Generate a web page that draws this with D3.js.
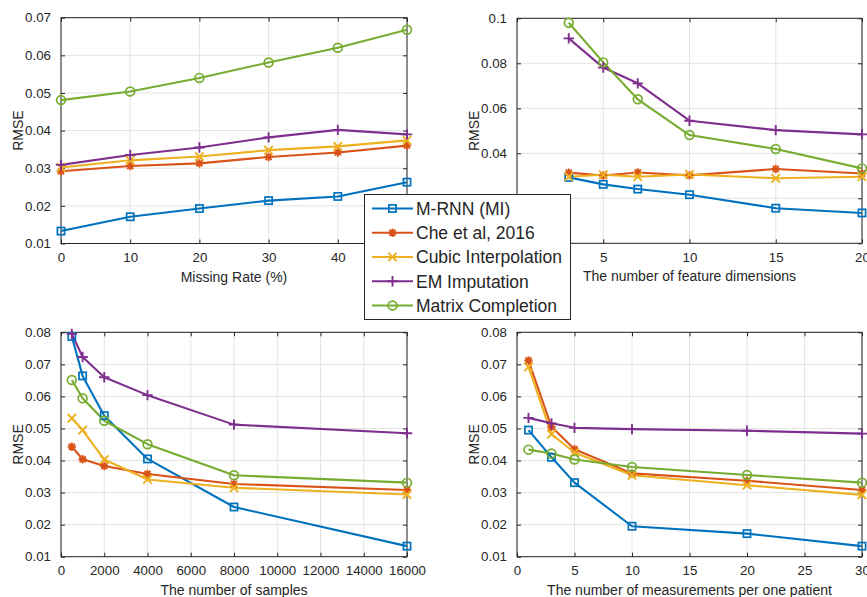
<!DOCTYPE html>
<html><head><meta charset="utf-8">
<script src="https://cdn.jsdelivr.net/npm/d3@7"></script>
<style>body{margin:0;background:#fff}svg{display:block}text{font-family:"Liberation Sans",Arial,sans-serif;fill:#262626}</style>
</head><body><svg id="c" width="867" height="597"></svg>
<script>
// ---------- data ----------
const seriesNames = ["M-RNN (MI)", "Che et al, 2016", "Cubic Interpolation", "EM Imputation", "Matrix Completion"];

// Panel 1: missing rate
const rateX = [0, 10, 20, 30, 40, 50];
const rateMRNN   = [0.0133, 0.0171, 0.0193, 0.0214, 0.0225, 0.0263];
const rateChe    = [0.0292, 0.0306, 0.0313, 0.0330, 0.0342, 0.0360];
const rateCubic  = [0.0302, 0.0321, 0.0331, 0.0348, 0.0358, 0.0374];
const rateEM     = [0.0309, 0.0335, 0.0355, 0.0382, 0.0402, 0.0390];
const rateMatrix = [0.0481, 0.0504, 0.0540, 0.0581, 0.0620, 0.0668];
const rateXTicks = [0, 10, 20, 30, 40, 50];
const rateYTicks = [0.01, 0.02, 0.03, 0.04, 0.05, 0.06, 0.07];

// Panel 2: feature dimensions
const dimX = [3, 5, 7, 10, 15, 20];
const dimMRNN   = [0.0293, 0.0262, 0.0241, 0.0216, 0.0156, 0.0135];
const dimChe    = [0.0314, 0.0301, 0.0315, 0.0302, 0.0330, 0.0310];
const dimCubic  = [0.0296, 0.0305, 0.0296, 0.0306, 0.0289, 0.0296];
const dimEM     = [0.0911, 0.0781, 0.0711, 0.0545, 0.0503, 0.0484];
const dimMatrix = [0.0980, 0.0804, 0.0640, 0.0481, 0.0419, 0.0333];
const dimXTicks = [0, 5, 10, 15, 20];
const dimYTicks = [0, 0.02, 0.04, 0.06, 0.08, 0.1];

// Panel 3: number of samples
const sampleX = [500, 1000, 2000, 4000, 8000, 16000];
const sampleMRNN   = [0.0787, 0.0664, 0.0540, 0.0405, 0.0255, 0.0133];
const sampleChe    = [0.0443, 0.0404, 0.0383, 0.0358, 0.0327, 0.0308];
const sampleCubic  = [0.0532, 0.0495, 0.0403, 0.0341, 0.0315, 0.0294];
const sampleEM     = [0.0795, 0.0723, 0.0660, 0.0604, 0.0512, 0.0485];
const sampleMatrix = [0.0651, 0.0594, 0.0524, 0.0451, 0.0354, 0.0331];
const sampleXTicks = [0, 2000, 4000, 6000, 8000, 10000, 12000, 14000, 16000];
const sampleYTicks = [0.01, 0.02, 0.03, 0.04, 0.05, 0.06, 0.07, 0.08];

// Panel 4: measurements per patient
const measX = [1, 3, 5, 10, 20, 30];
const measMRNN   = [0.0495, 0.0410, 0.0331, 0.0195, 0.0172, 0.0133];
const measChe    = [0.0712, 0.0505, 0.0435, 0.0360, 0.0337, 0.0308];
const measCubic  = [0.0692, 0.0482, 0.0425, 0.0354, 0.0323, 0.0293];
const measEM     = [0.0533, 0.0516, 0.0502, 0.0498, 0.0493, 0.0484];
const measMatrix = [0.0434, 0.0422, 0.0403, 0.0380, 0.0355, 0.0331];
const measXTicks = [0, 5, 10, 15, 20, 25, 30];
const measYTicks = [0.01, 0.02, 0.03, 0.04, 0.05, 0.06, 0.07, 0.08];

// ---------- style ----------
const colors = ["#0072BD", "#D95319", "#EDB120", "#7E2F8E", "#77AC30"];
const markers = ["square", "asterisk", "cross", "plus", "circle"];
const axisColor = "#262626";
const gridColor = "#e4e4e4";

const panels = [
  {x: rateX, ys: [rateMRNN, rateChe, rateCubic, rateEM, rateMatrix], xd: [0, 50], yd: [0.01, 0.07],
   xt: rateXTicks, yt: rateYTicks, xl: "Missing Rate (%)", l: 61, r: 407, t: 17.7, b: 243.5},
  {x: dimX, ys: [dimMRNN, dimChe, dimCubic, dimEM, dimMatrix], xd: [0, 20], yd: [0, 0.1],
   xt: dimXTicks, yt: dimYTicks, xl: "The number of feature dimensions", l: 517, r: 862, t: 18.3, b: 243.3},
  {x: sampleX, ys: [sampleMRNN, sampleChe, sampleCubic, sampleEM, sampleMatrix], xd: [0, 16000], yd: [0.01, 0.08],
   xt: sampleXTicks, yt: sampleYTicks, xl: "The number of samples", l: 61, r: 407, t: 332.3, b: 556.7},
  {x: measX, ys: [measMRNN, measChe, measCubic, measEM, measMatrix], xd: [0, 30], yd: [0.01, 0.08],
   xt: measXTicks, yt: measYTicks, xl: "The number of measurements per one patient", l: 517, r: 862, t: 332.3, b: 556.7}
];

const svg = d3.select("#c");
const fmt = v => String(+v.toFixed(3));

function drawMarker(g, type, cx, cy, color) {
  const s = 4.2;
  const m = g.append("g").attr("transform", `translate(${cx},${cy})`)
    .attr("stroke", color).attr("stroke-width", 1.7).attr("fill", "none");
  if (type === "square") {
    m.append("rect").attr("x", -3.6).attr("y", -3.6).attr("width", 7.2).attr("height", 7.2);
  } else if (type === "circle") {
    m.append("circle").attr("r", 4.4);
  } else if (type === "plus") {
    m.append("path").attr("d", `M${-s - 1},0H${s + 1}M0,${-s - 1}V${s + 1}`).attr("stroke-width", 1.9);
  } else if (type === "cross") {
    m.append("path").attr("d", `M${-s},${-s}L${s},${s}M${-s},${s}L${s},${-s}`).attr("stroke-width", 1.9);
  } else if (type === "asterisk") {
    const d = s * 0.72;
    m.append("path").attr("d", `M${-s},0H${s}M0,${-s}V${s}M${-d},${-d}L${d},${d}M${-d},${d}L${d},${-d}`).attr("stroke-width", 1.9);
  }
}

panels.forEach(p => {
  const x = d3.scaleLinear().domain(p.xd).range([p.l, p.r]);
  const y = d3.scaleLinear().domain(p.yd).range([p.b, p.t]);
  const g = svg.append("g");

  // grid
  g.selectAll(null).data(p.xt).enter().append("line")
    .attr("x1", d => x(d)).attr("x2", d => x(d)).attr("y1", p.t).attr("y2", p.b)
    .attr("stroke", gridColor).attr("stroke-width", 1);
  g.selectAll(null).data(p.yt).enter().append("line")
    .attr("y1", d => y(d)).attr("y2", d => y(d)).attr("x1", p.l).attr("x2", p.r)
    .attr("stroke", gridColor).attr("stroke-width", 1);

  // axes via d3 (inward ticks)
  const ax = g.append("g").attr("transform", `translate(0,${p.b})`)
    .call(d3.axisBottom(x).tickValues(p.xt).tickFormat(d => String(d)).tickSizeInner(-4).tickSizeOuter(0).tickPadding(9));
  const axT = g.append("g").attr("transform", `translate(0,${p.t})`)
    .call(d3.axisTop(x).tickValues(p.xt).tickFormat("").tickSizeInner(-4).tickSizeOuter(0));
  const ay = g.append("g").attr("transform", `translate(${p.l},0)`)
    .call(d3.axisLeft(y).tickValues(p.yt).tickFormat(fmt).tickSizeInner(-4).tickSizeOuter(0).tickPadding(10));
  const ayR = g.append("g").attr("transform", `translate(${p.r},0)`)
    .call(d3.axisRight(y).tickValues(p.yt).tickFormat("").tickSizeInner(-4).tickSizeOuter(0));
  [ax, axT, ay, ayR].forEach(a => {
    a.select(".domain").remove();
    a.selectAll("line").attr("stroke", axisColor).attr("stroke-width", 1);
    a.selectAll("text").attr("fill", axisColor).style("font-size", "13.3px")
      .style("font-family", '"Liberation Sans", Arial, sans-serif');
  });

  g.append("rect").attr("x", p.l).attr("y", p.t).attr("width", p.r - p.l).attr("height", p.b - p.t)
    .attr("fill", "none").attr("stroke", axisColor).attr("stroke-width", 1);

  // labels
  g.append("text").attr("x", (p.l + p.r) / 2).attr("y", p.b + 38).attr("text-anchor", "middle")
    .style("font-size", "14px").text(p.xl);
  g.append("text").attr("transform", `translate(${p.l - 43},${(p.t + p.b) / 2}) rotate(-90)`)
    .attr("text-anchor", "middle").attr("dy", "0.35em").style("font-size", "14px").text("RMSE");

  // lines
  const line = d3.line().x((d, i) => x(p.x[i])).y(d => y(d));
  p.ys.forEach((vals, si) => {
    g.append("path").attr("d", line(vals)).attr("fill", "none")
      .attr("stroke", colors[si]).attr("stroke-width", 2.1).attr("stroke-linejoin", "round");
  });
  p.ys.forEach((vals, si) => {
    vals.forEach((v, i) => drawMarker(g, markers[si], x(p.x[i]), y(v), colors[si]));
  });
});

// legend
const lg = svg.append("g");
lg.append("rect").attr("x", 364.5).attr("y", 194.5).attr("width", 206).attr("height", 125)
  .attr("fill", "#fff").attr("stroke", axisColor).attr("stroke-width", 1);
const legendY = d3.scalePoint().domain(seriesNames).range([208.5, 305.5]);
seriesNames.forEach((name, i) => {
  const cy = legendY(name);
  lg.append("line").attr("x1", 372).attr("x2", 413).attr("y1", cy).attr("y2", cy)
    .attr("stroke", colors[i]).attr("stroke-width", 2.1);
  drawMarker(lg, markers[i], 392.5, cy, colors[i]);
  lg.append("text").attr("x", 416).attr("y", cy).attr("dy", "0.36em").style("font-size", "17.5px")
    .attr("fill", "#000").text(name);
});
</script>
</body></html>
